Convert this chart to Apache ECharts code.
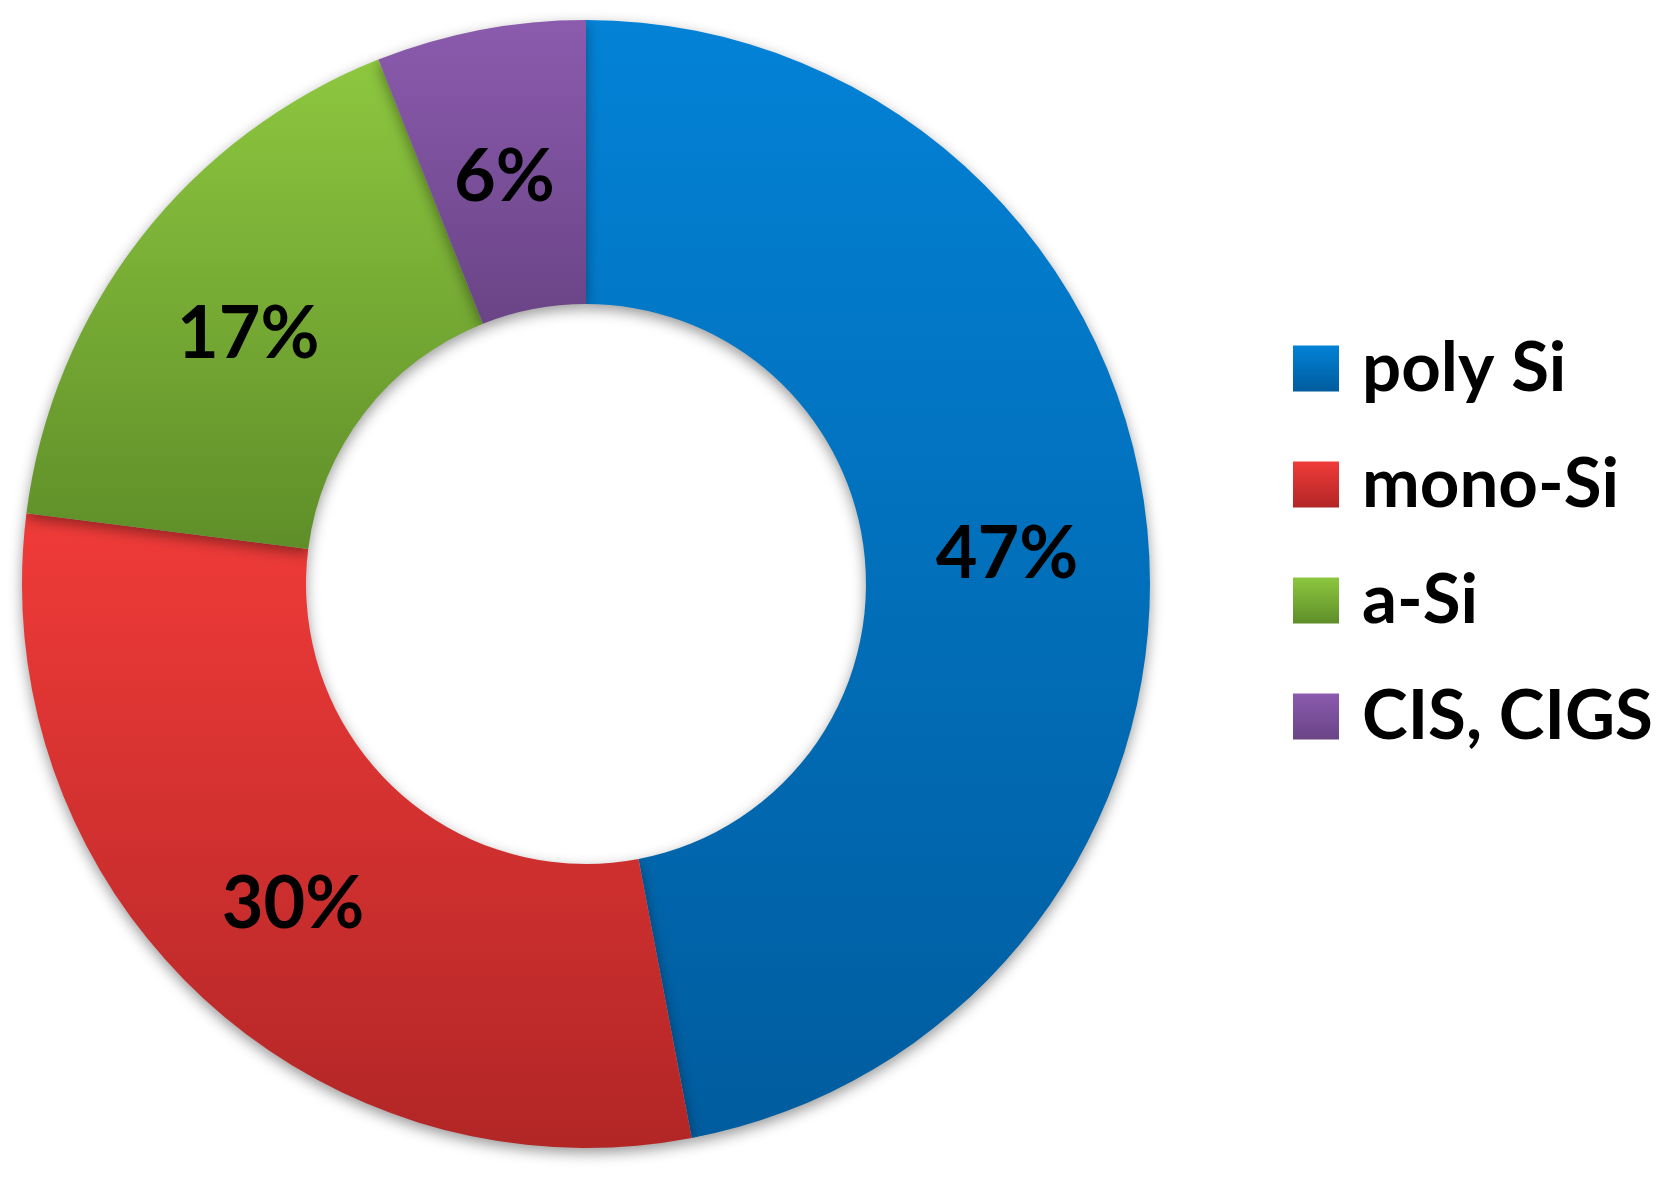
<html>
	<head>
		<meta charset="UTF-8">
		<title>Solar cell technologies share</title>
		<script src="https://cdn.jsdelivr.net/npm/echarts@6/dist/echarts.min.js"></script>
		<style>html,body,#container{width:100%;height:100%;margin:0;padding:0;background:#fff;}</style>
	</head>
	<body>
		<div id="container"></div>
		<script>
		// data
		var categories = ['poly Si', 'mono-Si', 'a-Si', 'CIS, CIGS'];
		var shares = [47, 30, 17, 6];
		// top / bottom colour of each slice gradient
		var topColors = ['#0382d6', '#f03b39', '#8dc73f', '#8b5bae'];
		var bottomColors = ['#005c9e', '#b22626', '#5f8e29', '#6a4486'];

		var chart = echarts.init(document.getElementById('container'));

		var pieData = categories.map(function (name, i) {
			return {
				name: name,
				value: shares[i],
				itemStyle: {
					color: new echarts.graphic.LinearGradient(0, 0, 0, 1, [
						{ offset: 0, color: topColors[i] },
						{ offset: 1, color: bottomColors[i] }
					])
				}
			};
		});

		var option = {
			backgroundColor: '#fff',
			animation: false,
			legend: {
				orient: 'vertical',
				left: 1293,
				top: 334,
				padding: 0,
				itemWidth: 46,
				itemHeight: 46,
				itemGap: 47,
				icon: 'rect',
				data: categories,
				textStyle: {
					fontFamily: 'Lato',
					fontWeight: 'bold',
					fontSize: 69,
					lineHeight: 46,
					color: '#000',
					padding: [0, 0, 0, 18]
				}
			},
			series: [{
				type: 'pie',
				center: [586, 584],
				radius: [280, 564],
				startAngle: 90,
				clockwise: true,
				avoidLabelOverlap: false,
				itemStyle: {
					borderWidth: 0,
					shadowBlur: 14,
					shadowOffsetY: 5,
					shadowColor: 'rgba(0,0,0,0.4)'
				},
				label: {
					show: true,
					position: 'inside',
					formatter: '{c}%',
					fontFamily: 'Lato',
					fontWeight: 'bold',
					fontSize: 72,
					color: '#000',
					offset: [-2, 11]
				},
				labelLine: { show: false },
				emphasis: { disabled: true },
				data: pieData
			}]
		};
		chart.setOption(option);
		</script>
	</body>
</html>
